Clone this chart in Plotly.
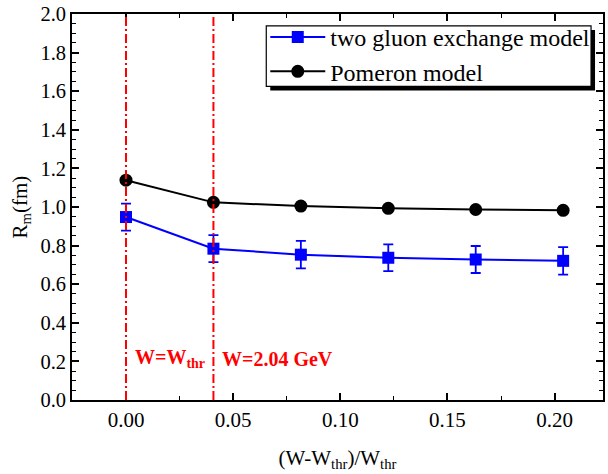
import plotly.graph_objects as go

# Data
x_vals = [0.0, 0.0408, 0.0816, 0.1224, 0.1632, 0.204]
two_gluon = [0.948, 0.784, 0.753, 0.737, 0.728, 0.721]
two_gluon_err = [0.070, 0.070, 0.071, 0.069, 0.070, 0.071]
pomeron = [1.139, 1.024, 1.005, 0.993, 0.987, 0.983]
vline_x = [0.0, 0.0408]
vline_labels = ["<b>W=W<sub>thr</sub></b>", "<b>W=2.04 GeV</b>"]
series_names = ["two gluon exchange model", "Pomeron model"]

FONT = "Liberation Serif"

fig = go.Figure()

fig.add_trace(go.Scatter(
    x=x_vals, y=two_gluon, name=series_names[0], mode="lines+markers",
    line=dict(color="#0000FF", width=2),
    marker=dict(symbol="square", size=12, color="#0000FF"),
    error_y=dict(type="data", array=two_gluon_err, visible=True,
                 color="#0000FF", thickness=1.8, width=5),
))
fig.add_trace(go.Scatter(
    x=x_vals, y=pomeron, name=series_names[1], mode="lines+markers",
    line=dict(color="#000000", width=2),
    marker=dict(symbol="circle", size=13, color="#000000"),
))

for xv, lab in zip(vline_x, vline_labels):
    fig.add_shape(type="line", xref="x", yref="y domain", x0=xv, x1=xv, y0=0, y1=1,
                  line=dict(color="#FF0000", width=2, dash="9px,3px,2px,3px"),
                  layer="above")
    fig.add_annotation(x=xv, y=0.215, xref="x", yref="y", text=lab, showarrow=False,
                       xanchor="left", yanchor="middle", xshift=6.5,
                       font=dict(family=FONT, size=20, color="#FF0000"))

# legend frame with shadow (pixel geometry converted into paper coords)
L, R, T, B = 72, 605, 11, 400
W, H = R - L, B - T
def px(xp): return (xp - L) / W
def py(yp): return 1 - (yp - T) / H
fig.add_shape(type="rect", xref="paper", yref="paper",
              x0=px(271), x1=px(597), y0=py(88), y1=py(27),
              fillcolor="black", line=dict(width=0), layer="above")
fig.add_shape(type="rect", xref="paper", yref="paper",
              x0=px(267), x1=px(593), y0=py(84), y1=py(23),
              fillcolor="white", line=dict(width=1.2, color="black"), layer="above")

axis_common = dict(
    showline=True, linecolor="black", linewidth=1.8, mirror="ticks",
    ticks="inside", ticklen=7, tickwidth=1.6, tickcolor="black",
    showgrid=False, zeroline=False, ticklabeloverflow="allow",
)

fig.update_xaxes(
    range=[-0.0252, 0.2226], tickvals=[0.0, 0.05, 0.10, 0.15, 0.20],
    ticktext=["0.00", "0.05", "0.10", "0.15", "0.20"],
    tickfont=dict(family=FONT, size=21, color="black"),
    minor=dict(dtick=0.025, tick0=0, ticks="inside", ticklen=4, tickwidth=1.4, tickcolor="black"),
    title=dict(text="(W-W<sub>thr</sub>)/W<sub>thr</sub>", font=dict(family=FONT, size=21, color="black"), standoff=19),
    **axis_common,
)
fig.update_yaxes(
    range=[0, 2.0], dtick=0.2, tickformat=".1f",
    tickfont=dict(family=FONT, size=20.5, color="black"),
    minor=dict(dtick=0.05, ticks="inside", ticklen=4, tickwidth=1.4, tickcolor="black"),
    title=dict(text="R<sub>m</sub>(fm)", font=dict(family=FONT, size=21, color="black"), standoff=7),
    **axis_common,
)

fig.update_layout(
    width=608, height=474,
    margin=dict(l=L, r=608 - R, t=T, b=474 - B),
    paper_bgcolor="white", plot_bgcolor="white",
    showlegend=True,
    legend=dict(x=px(266), y=py(12), xanchor="left", yanchor="top",
                bgcolor="rgba(0,0,0,0)", borderwidth=0,
                font=dict(family=FONT, size=24, color="black"),
                tracegroupgap=0, itemwidth=55),
    font=dict(family=FONT),
)

fig.write_html("out.html", config={"displayModeBar": False},
               post_script="document.body.style.margin='0';")
